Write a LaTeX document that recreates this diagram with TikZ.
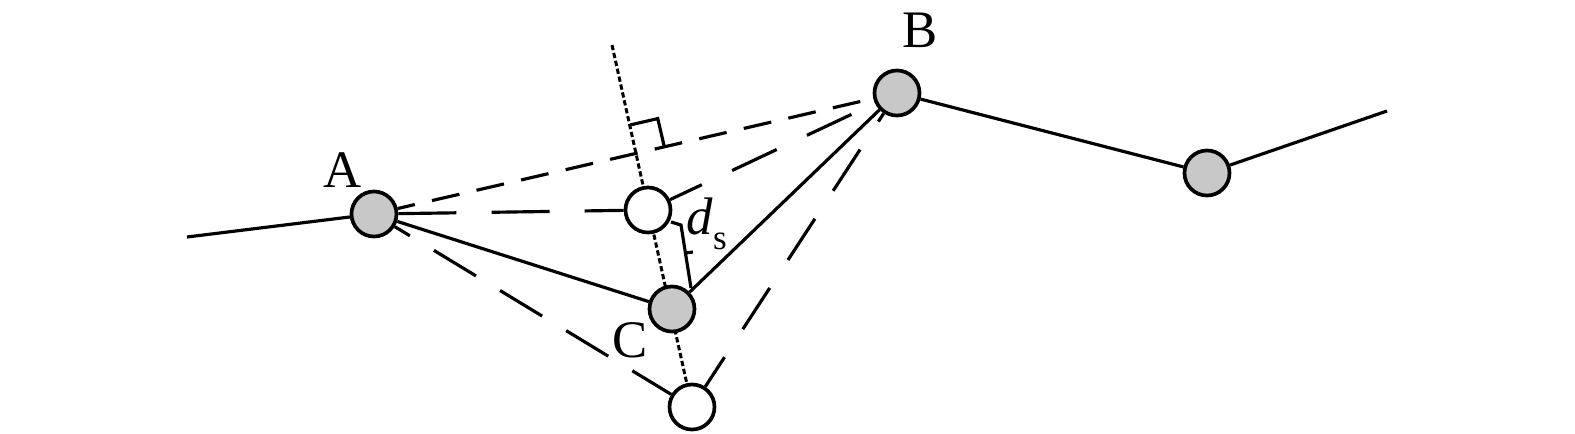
\documentclass[tikz,border=0pt]{standalone}
\usepackage{fontspec}
\setmainfont{Liberation Serif}
\usetikzlibrary{calc}
\definecolor{nodegray}{RGB}{200,200,200}
\tikzset{
  gnode/.style={circle,draw=black,line width=1.05pt,fill=nodegray,minimum size=0.45cm,inner sep=0pt},
  onode/.style={circle,draw=black,line width=1.05pt,fill=white,minimum size=0.45cm,inner sep=0pt},
  solidln/.style={line width=0.9pt},
  dashab/.style={line width=0.9pt,dash pattern=on 8pt off 5pt},
  dashlong/.style={line width=0.9pt,dash pattern=on 14pt off 9.5pt},
  dotln/.style={line width=0.85pt,dash pattern=on 1.5pt off 0.8pt},
  lbl/.style={font=\fontsize{15}{18}\selectfont,inner sep=0pt}
}
\begin{document}
\begin{tikzpicture}[x=0.01cm,y=-0.01cm]
\useasboundingbox (0,0) rectangle (1575,433);
% positions
\coordinate (Lend) at (187,237);
\coordinate (Rend) at (1387,111);
\coordinate (T) at (612,45);
% dotted line first (behind nodes)
\coordinate (Lp) at (692,407);
\draw[dotln] (T) -- (Lp);
% nodes
\node[gnode] (A) at (374,214) {};
\node[gnode] (B) at (897,93) {};
\node[gnode] (D) at (1207,173) {};
\node[gnode] (C) at (672,309) {};
\node[onode] (O) at (648,210) {};
\node[onode] (L) at (692,407) {};
% solid chain
\draw[solidln] (Lend) -- (A);
\draw[solidln] (A) -- (C);
\draw[solidln] (C) -- (B);
\draw[solidln] (B) -- (D);
\draw[solidln] (D) -- (Rend);
% dashed lines
\draw[dashab,dash phase=3pt] (A) -- (B);
\draw[line width=0.9pt,dash pattern=on 16.5pt off 10pt] (A) -- (O);
\draw[line width=0.9pt,dash pattern=on 14pt off 8pt,dash phase=9pt] (A) -- (L);
\draw[dashlong,dash phase=4pt] (O) -- (B);
\draw[dashlong,dash phase=4pt] (L) -- (B);
% right angle mark
\coordinate (F) at ($(A)!(T)!(B)$);
\coordinate (F1) at ($(F)!0.29cm!(T)$);
\coordinate (F2) at ($(F)!0.28cm!(B)$);
\draw[solidln] (F1) -- ($(F1)+(F2)-(F)$) -- (F2);
% d_s bracket
\coordinate (b1) at (671,222);
\coordinate (b2) at (681,225);
\coordinate (b3) at (691,288);
\coordinate (bm1) at (685,253);
\coordinate (bm2) at (693,252);
\draw[solidln] (b1) -- (b2) -- (b3);
\draw[solidln] (bm1) -- (bm2);
% labels
\node[lbl] (la) at (343,170) {A};
\node[lbl] (lb) at (920,30) {B};
\node[lbl] (lc) at (630,340) {C};
\node[inner sep=0pt,anchor=base west] (lds) at (686,234) {{\fontsize{15}{15}\selectfont\itshape d}{\fontsize{10}{10}\selectfont\raisebox{-0.45em}{s}}};
\end{tikzpicture}
\end{document}
